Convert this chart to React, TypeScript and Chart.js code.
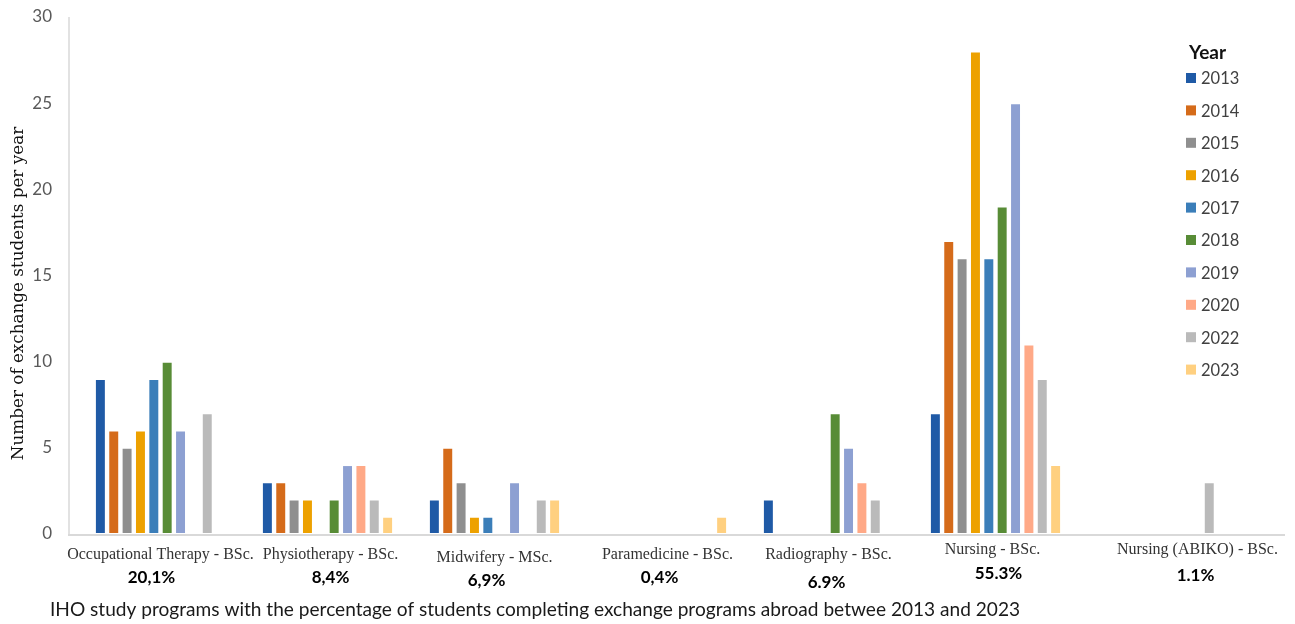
import React, { useEffect, useRef } from "react";
import { Chart, registerables } from "chart.js";

Chart.register(...registerables);

// ---------- DATA ----------
const categories = [
  "Occupational Therapy - BSc.",
  "Physiotherapy - BSc.",
  "Midwifery - MSc.",
  "Paramedicine - BSc.",
  "Radiography - BSc.",
  "Nursing - BSc.",
  "Nursing (ABIKO) - BSc.",
];
const percentages = ["20,1%", "8,4%", "6,9%", "0,4%", "6.9%", "55.3%", "1.1%"];
const years = ["2013", "2014", "2015", "2016", "2017", "2018", "2019", "2020", "2022", "2023"];

const y2013 = [9, 3, 2, 0, 2, 7, 0];
const y2014 = [6, 3, 5, 0, 0, 17, 0];
const y2015 = [5, 2, 3, 0, 0, 16, 0];
const y2016 = [6, 2, 1, 0, 0, 28, 0];
const y2017 = [9, 0, 1, 0, 0, 16, 0];
const y2018 = [10, 2, 0, 0, 7, 19, 0];
const y2019 = [6, 4, 3, 0, 5, 25, 0];
const y2020 = [0, 4, 0, 0, 3, 11, 0];
const y2022 = [7, 2, 2, 0, 2, 9, 3];
const y2023 = [0, 1, 2, 1, 0, 4, 0];
const seriesValues = [y2013, y2014, y2015, y2016, y2017, y2018, y2019, y2020, y2022, y2023];

const yMin = 0;
const yMax = 30;
const yStep = 5;

const axisTitle = "Number of exchange students per year";
const legendTitle = "Year";
const caption =
  "IHO study programs with the percentage of students completing exchange programs abroad betwee 2013 and 2023";

// ---------- STYLE ----------
const colors = [
  "#1F5AA6",
  "#D56B1A",
  "#8F8F8F",
  "#EDA100",
  "#3B7EB9",
  "#588C36",
  "#8DA0D2",
  "#FFA987",
  "#BABABA",
  "#FFD080",
];

// per-label nudges relative to category center (layout only)
const labelNudge = [
  [0, 555],
  [3, 555],
  [0, 558],
  [6, 555],
  [0, 555],
  [-3, 550],
  [35, 550],
];
const pctNudge = [
  [-9, 578],
  [3, 578],
  [-8, 581],
  [-2, 578],
  [-2, 583],
  [3, 574],
  [33, 576],
];

const decorPlugin = {
  id: "decor",
  beforeDatasetsDraw(chart: any) {
    const { ctx, chartArea } = chart;
    ctx.save();
    ctx.strokeStyle = "#D9D9D9";
    ctx.lineWidth = 1.5;
    ctx.beginPath();
    ctx.moveTo(69, chartArea.top);
    ctx.lineTo(69, chartArea.bottom);
    ctx.stroke();
    ctx.lineWidth = 2;
    ctx.beginPath();
    ctx.moveTo(68, chartArea.bottom + 1);
    ctx.lineTo(1285, chartArea.bottom + 1);
    ctx.stroke();
    ctx.restore();
  },
  afterDraw(chart: any) {
    const { ctx } = chart;
    const xScale = chart.scales.x;
    ctx.save();

    // category labels
    ctx.textAlign = "center";
    ctx.textBaseline = "middle";
    ctx.fillStyle = "#333333";
    ctx.font = "16px 'Liberation Serif'";
    categories.forEach((c, i) => {
      const x = xScale.getPixelForValue(i) + labelNudge[i][0];
      ctx.fillText(c, x, labelNudge[i][1]);
    });

    // percentages
    ctx.fillStyle = "#000000";
    ctx.font = "bold 17px Lato";
    percentages.forEach((p, i) => {
      const x = xScale.getPixelForValue(i) + pctNudge[i][0];
      ctx.fillText(p, x, pctNudge[i][1]);
    });

    // caption
    ctx.font = "19.1px Lato";
    ctx.fillStyle = "#1a1a1a";
    ctx.textAlign = "left";
    ctx.fillText(caption, 50, 610);

    // y axis title
    ctx.save();
    ctx.translate(19, 293.5);
    ctx.rotate(-Math.PI / 2);
    ctx.textAlign = "center";
    ctx.textBaseline = "middle";
    ctx.fillStyle = "#111111";
    ctx.font = "16.8px 'DejaVu Serif'";
    ctx.fillText(axisTitle, 0, 0);
    ctx.restore();

    // legend
    ctx.textAlign = "left";
    ctx.fillStyle = "#111111";
    ctx.font = "bold 19px Lato";
    ctx.fillText(legendTitle, 1189, 53);
    ctx.font = "16.5px Lato";
    chart.data.datasets.forEach((ds: any, i: number) => {
      const y = 78 + i * 32.4;
      ctx.fillStyle = ds.backgroundColor;
      ctx.fillRect(1186, y - 5, 10, 10);
      ctx.fillStyle = "#404040";
      ctx.fillText(ds.label, 1201, y + 1);
    });

    ctx.restore();
  },
};

export default function App() {
  const ref = useRef<HTMLCanvasElement | null>(null);

  useEffect(() => {
    document.body.style.margin = "0";
    document.body.style.overflow = "hidden";
    const canvas = ref.current;
    if (!canvas) return;
    const chart = new Chart(canvas, {
      type: "bar",
      data: {
        labels: categories,
        datasets: years.map((yr, i) => ({
          label: yr,
          data: seriesValues[i],
          backgroundColor: colors[i],
          borderColor: "rgba(255,255,255,0.55)",
          borderWidth: (c: any) => (c.raw === 0 ? 0 : 1),
          borderSkipped: false,
          categoryPercentage: 0.8,
          barPercentage: 0.82,
        })),
      },
      options: {
        responsive: false,
        animation: false,
        devicePixelRatio: 1,
        layout: { padding: { top: 17, right: 49, bottom: 0, left: 0 } },
        plugins: {
          legend: { display: false },
          tooltip: { enabled: false },
          title: { display: false },
        },
        scales: {
          x: {
            grid: { display: false, drawTicks: false },
            border: { display: false },
            ticks: { display: false },
            afterFit: (s: any) => {
              s.height = 90;
              s.paddingLeft = 0;
              s.paddingRight = 0;
            },
          },
          y: {
            min: yMin,
            max: yMax,
            grid: { display: false, drawTicks: false },
            border: { display: false },
            ticks: {
              stepSize: yStep,
              padding: 25,
              color: "#595959",
              font: { family: "Lato", size: 17 },
            },
            afterFit: (s: any) => {
              s.width = 77;
              s.paddingTop = 0;
              s.paddingBottom = 0;
            },
          },
        },
      },
      plugins: [decorPlugin],
    });
    return () => chart.destroy();
  }, []);

  return <canvas ref={ref} width={1295} height={624} style={{ display: "block" }} />;
}
